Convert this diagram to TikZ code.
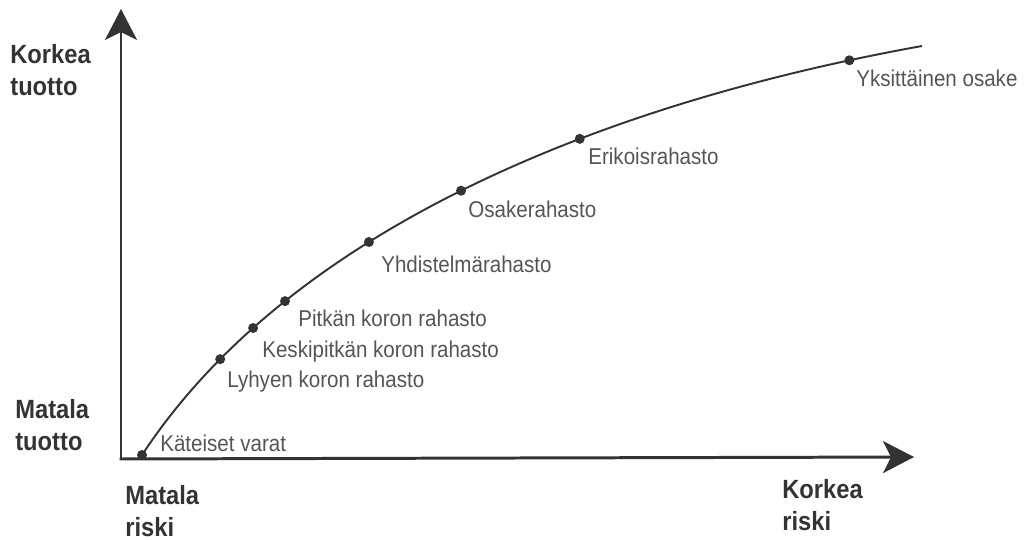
\documentclass[tikz,border=0pt]{standalone}
\usepackage{fontspec}
\setmainfont{Liberation Sans}[FakeStretch=0.9]
\usepackage{tikz}
\usetikzlibrary{arrows.meta}
\definecolor{inkgray}{HTML}{333333}
\definecolor{textgray}{HTML}{555555}
\tikzstyle{axis} = [line width=1.7pt, draw=inkgray,
-{Stealth[length=0.62cm, width=0.64cm, inset=0.16cm]}]
\tikzstyle{curve} = [line width=1.1pt, draw=inkgray]
\tikzstyle{dot} = [circle, fill=inkgray, inner sep=0pt,
minimum size=0.2cm]
\tikzstyle{fund} = [anchor=west, inner sep=0pt, text=textgray,
font=\fontsize{13}{15}\selectfont]
\tikzstyle{axislabel} = [anchor=west, inner sep=0pt, align=left,
text=inkgray, font=\bfseries\fontsize{15}{18}\selectfont]

\begin{document}
\begin{tikzpicture}[x=0.02cm, y=-0.02cm]
	\useasboundingbox (0,0) rectangle (1027,540);
	\coordinate (origin) at (121,459);
	\coordinate (ytip) at (121,9);
	\coordinate (xtip) at (914,457);
	\coordinate (start) at (142,455);
	\coordinate (bend_a) at (290,230);
	\coordinate (bend_b) at (600,104);
	\coordinate (curve_end) at (922,46);

	\draw [axis] (origin) -- (ytip);
	\draw [axis] ([xshift=-0.8pt]origin) -- (xtip);

	% the curve, with one dot for each fund
	\draw [curve] (start) .. controls (bend_a) and (bend_b) .. (curve_end)
		node (kat) [dot, pos=0] {}
		node (lyh) [dot, pos=0.152] {}
		node (kes) [dot, pos=0.2065] {}
		node (pit) [dot, pos=0.256] {}
		node (yhd) [dot, pos=0.375] {}
		node (osa) [dot, pos=0.493] {}
		node (eri) [dot, pos=0.633] {}
		node (yks) [dot, pos=0.9245] {};

	\node (kat_txt) [fund] at (160,443) {Käteiset varat};
	\node (lyh_txt) [fund] at (227,382) {Lyhyen koron rahasto};
	\node (kes_txt) [fund] at (262,352) {Keskipitkän koron rahasto};
	\node (pit_txt) [fund] at (298,318) {Pitkän koron rahasto};
	\node (yhd_txt) [fund] at (381,264) {Yhdistelmärahasto};
	\node (osa_txt) [fund] at (468,209) {Osakerahasto};
	\node (eri_txt) [fund] at (588,156) {Erikoisrahasto};
	\node (yks_txt) [fund] at (856,78) {Yksittäinen osake};

	\node (high_ret) [axislabel] at (10,70) {Korkea\\tuotto};
	\node (low_ret) [axislabel] at (15,425) {Matala\\tuotto};
	\node (low_risk) [axislabel] at (125,511) {Matala\\riski};
	\node (high_risk) [axislabel] at (782,505) {Korkea\\riski};
\end{tikzpicture}
\end{document}
